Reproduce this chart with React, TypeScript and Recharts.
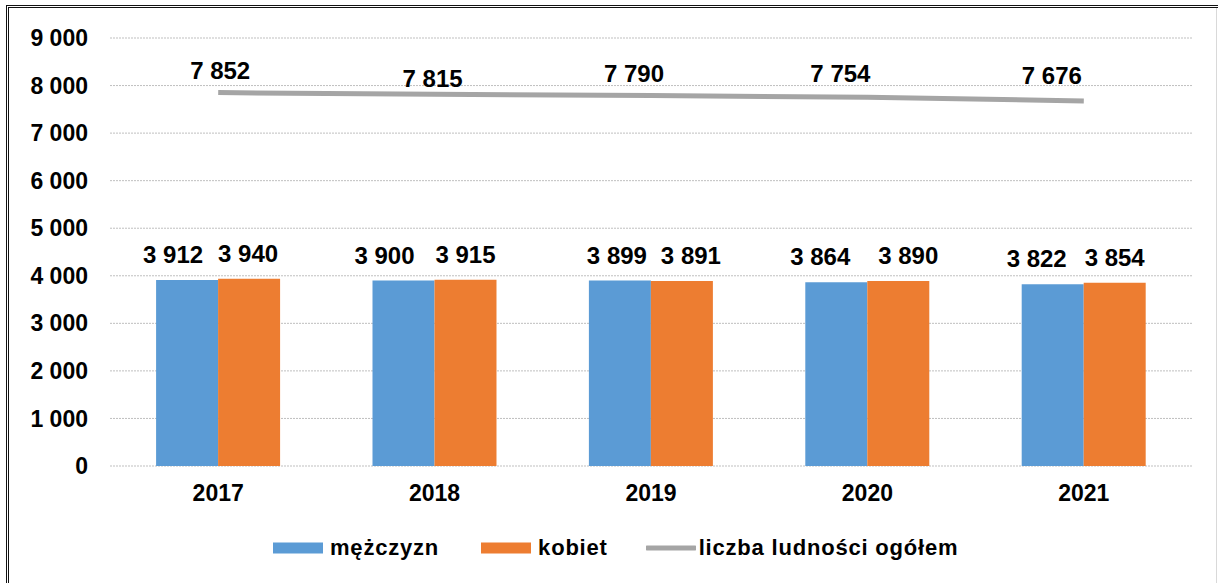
import React from 'react';
import {
  ComposedChart,
  Bar,
  Line,
  XAxis,
  YAxis,
  CartesianGrid,
  Legend,
  LabelList,
} from 'recharts';

// ---- data ----
const years = ['2017', '2018', '2019', '2020', '2021'];
const men = [3912, 3900, 3899, 3864, 3822];
const women = [3940, 3915, 3891, 3890, 3854];
const total = [7852, 7815, 7790, 7754, 7676];
const yTicks = [0, 1000, 2000, 3000, 4000, 5000, 6000, 7000, 8000, 9000];
const seriesNames = { men: 'mężczyzn', women: 'kobiet', total: 'liczba ludności ogółem' };
const legendOrder = [seriesNames.men, seriesNames.women, seriesNames.total];

// ---- label placement (style, as in the source picture) ----
const menLabelDx = [-14, -19, -3, -16, -16];
const womenLabelDx = [-1, 0, 9, 10, 0];
const totalLabelDx = [2, -2, -17, -27, -32];
const totalLabelRise = [13.6, 7, 13.5, 15, 17];

const COLORS = { men: '#5B9BD5', women: '#ED7D31', total: '#A5A5A5' };
const FONT = '"Liberation Sans", Arial, Helvetica, sans-serif';

const data = years.map((y, i) => ({
  year: y,
  men: men[i],
  women: women[i],
  total: total[i],
}));

const fmt = (n: number) => String(n).replace(/\B(?=(\d{3})+(?!\d))/g, ' ');

const makeBarLabel = (dxArr: number[]) => (props: any) => {
  const { x, y, width, value, index } = props;
  return (
    <text
      x={Number(x) + Number(width) / 2 + (dxArr[index] || 0)}
      y={Number(y) - 17}
      textAnchor="middle"
      fontFamily={FONT}
      fontWeight="bold"
      fontSize={24}
      fill="#000"
    >
      {fmt(Number(value))}
    </text>
  );
};

const totalLabel = (props: any) => {
  const { x, y, value, index } = props;
  return (
    <text
      x={Number(x) + (totalLabelDx[index] || 0)}
      y={Number(y) - (totalLabelRise[index] || 13)}
      textAnchor="middle"
      fontFamily={FONT}
      fontWeight="bold"
      fontSize={24}
      fill="#000"
    >
      {fmt(Number(value))}
    </text>
  );
};

const LegendContent = (props: any) => {
  const payload = [...(props.payload || [])].sort(
    (a: any, b: any) => legendOrder.indexOf(a.value) - legendOrder.indexOf(b.value)
  );
  return (
    <div style={{ display: 'flex', alignItems: 'center', height: 22 }}>
      {payload.map((entry: any, i: number) => (
        <div
          key={i}
          style={{ display: 'flex', alignItems: 'center', marginRight: i === 0 ? 42 : 38 }}
        >
          <svg width={50} height={12} style={{ display: 'block' }}>
            {entry.type === 'line' ? (
              <line x1={1} y1={6} x2={49} y2={6} stroke={entry.color} strokeWidth={5} strokeLinecap="round" />
            ) : (
              <rect x={0} y={0.5} width={50} height={11} fill={entry.color} />
            )}
          </svg>
          <span
            style={{
              marginLeft: entry.type === 'line' ? 3 : 7,
              fontFamily: FONT,
              fontWeight: 'bold',
              fontSize: 22,
              letterSpacing: 0.8,
              color: '#000',
              lineHeight: '22px',
              whiteSpace: 'nowrap',
            }}
          >
            {entry.value}
          </span>
        </div>
      ))}
    </div>
  );
};

export default function App() {
  return (
    <div
      style={{
        position: 'fixed',
        left: 0,
        top: 0,
        width: 1218,
        height: 583,
        overflow: 'hidden',
        background: '#fff',
      }}
    >
      <div
        style={{
          position: 'absolute',
          left: 6,
          top: 5,
          width: 1240,
          height: 620,
          borderTop: '3px double #111',
          borderLeft: '3px double #111',
          boxSizing: 'border-box',
        }}
      />
      <div
        style={{
          position: 'absolute',
          left: 1216,
          top: 8,
          width: 1,
          height: 580,
          background: '#d9d9d9',
        }}
      />
      <div style={{ position: 'absolute', left: 0, top: 0 }}>
        <ComposedChart
          width={1218}
          height={583}
          data={data}
          margin={{ top: 38, right: 26, left: 0, bottom: 0 }}
          barCategoryGap="21.3%"
          barGap={0}
        >
          <CartesianGrid
            vertical={false}
            stroke="#bfbfbf"
            strokeDasharray="2 1"
          />
          <XAxis
            dataKey="year"
            height={117}
            axisLine={false}
            tickLine={false}
            tickSize={0}
            tickMargin={19}
            tick={{ fontFamily: FONT, fontWeight: 'bold', fontSize: 23, fill: '#000' }}
          />
          <YAxis
            width={110}
            domain={[0, 9000]}
            ticks={yTicks}
            interval={0}
            axisLine={false}
            tickLine={false}
            tickSize={0}
            tickMargin={22}
            tickFormatter={(v: number) => fmt(v)}
            tick={{ fontFamily: FONT, fontWeight: 'bold', fontSize: 23, fill: '#000' }}
          />
          <Bar dataKey="men" name={seriesNames.men} fill={COLORS.men} isAnimationActive={false}>
            <LabelList dataKey="men" content={makeBarLabel(menLabelDx)} />
          </Bar>
          <Bar dataKey="women" name={seriesNames.women} fill={COLORS.women} isAnimationActive={false}>
            <LabelList dataKey="women" content={makeBarLabel(womenLabelDx)} />
          </Bar>
          <Line
            dataKey="total"
            name={seriesNames.total}
            type="linear"
            stroke={COLORS.total}
            strokeWidth={5}
            dot={false}
            activeDot={false}
            legendType="line"
            isAnimationActive={false}
          >
            <LabelList dataKey="total" content={totalLabel} />
          </Line>
          <Legend
            layout="horizontal"
            verticalAlign="middle"
            align="center"
            content={<LegendContent />}
            wrapperStyle={{ top: 537, left: 273, width: 'auto', height: 22 }}
          />
        </ComposedChart>
      </div>
    </div>
  );
}
